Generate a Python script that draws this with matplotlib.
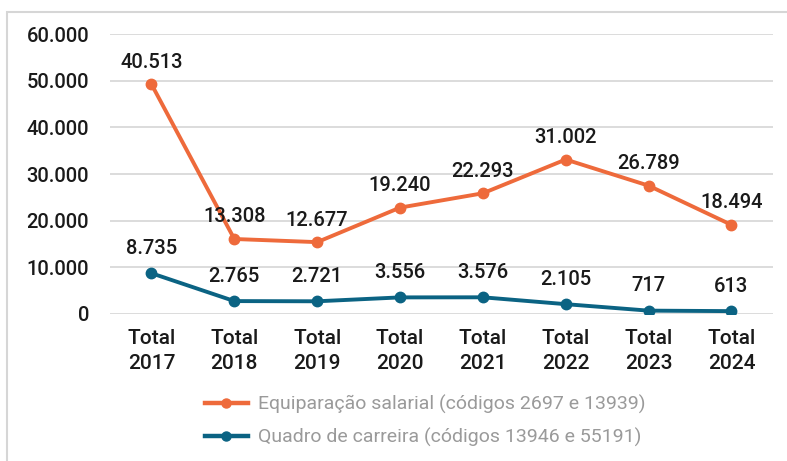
import matplotlib
matplotlib.use("Agg")
import matplotlib.pyplot as plt
from matplotlib.lines import Line2D
from matplotlib.patches import Rectangle
import numpy as np

# dados do gráfico (valores dos rótulos)
anos = ["Total\n2017", "Total\n2018", "Total\n2019", "Total\n2020",
        "Total\n2021", "Total\n2022", "Total\n2023", "Total\n2024"]
equiparacao = [40513, 13308, 12677, 19240, 22293, 31002, 26789, 18494]
quadro = [8735, 2765, 2721, 3556, 3576, 2105, 717, 613]
nomes = ["Equiparação salarial (códigos 2697 e 13939)",
         "Quadro de carreira (códigos 13946 e 55191)"]
yticks = [0, 10000, 20000, 30000, 40000, 50000, 60000]

LARANJA = "#EE6A3B"
AZUL = "#0B6383"
TEXTO = "#1a1a1a"

plt.rcParams["font.family"] = ["Roboto", "DejaVu Sans"]


def fmt(v):
    return f"{v:,}".replace(",", ".")


fig = plt.figure(figsize=(7.87, 4.61), dpi=100)
ax = fig.add_axes([0.1398, 0.3189, 0.8422, 0.6073])

# moldura cinza
fig.patches.append(Rectangle((7 / 787, -0.1), 1.2, 1 - 12 / 461 + 0.1,
                             transform=fig.transFigure, fill=False,
                             edgecolor="#d6d6d6", linewidth=1.5))

x = np.arange(len(anos))
empilhado = np.add(equiparacao, quadro)  # linha empilhada

ax.plot(x, empilhado, color=LARANJA, lw=2.8, marker="o", ms=7.5, zorder=3)
ax.plot(x, quadro, color=AZUL, lw=2.8, marker="o", ms=7.5, zorder=3)

for xi, yi, v in zip(x, empilhado, equiparacao):
    ax.annotate(fmt(v), (xi, yi), xytext=(0, 9), textcoords="offset points",
                ha="center", va="bottom", fontsize=14.5, fontweight=500,
                color=TEXTO)
for xi, yi, v in zip(x, quadro, quadro):
    ax.annotate(fmt(v), (xi, yi), xytext=(0, 11), textcoords="offset points",
                ha="center", va="bottom", fontsize=14.5, fontweight=500,
                color=TEXTO)

ax.set_xlim(-0.5, len(anos) - 0.5)
ax.set_ylim(0, 60000)
ax.set_yticks(yticks)
ax.set_yticklabels([fmt(v) for v in yticks], fontsize=14.5, fontweight=500,
                   color=TEXTO)
ax.set_xticks(x)
ax.set_xticklabels(anos, fontsize=15, fontweight=500, color=TEXTO,
                   linespacing=1.35)
ax.tick_params(length=0)
ax.tick_params(axis="y", pad=15)
ax.tick_params(axis="x", pad=11)
ax.grid(axis="y", color="#d9d9d9", lw=1.3)
ax.set_axisbelow(True)
for s in ax.spines.values():
    s.set_visible(False)

handles = [Line2D([], [], color=LARANJA, lw=3.2, marker="o", ms=6.5),
           Line2D([], [], color=AZUL, lw=3.2, marker="o", ms=6.5)]
leg = fig.legend(handles, nomes, loc="upper left",
                 bbox_to_anchor=(205 / 787, 1 - 395 / 461),
                 frameon=False, borderpad=0, borderaxespad=0,
                 handlelength=2.2, handletextpad=0.5, labelspacing=0.72,
                 prop={"family": "Roboto", "size": 14})
for t in leg.get_texts():
    t.set_color("#9a9a9a")

fig.savefig("out.png", dpi=100)
